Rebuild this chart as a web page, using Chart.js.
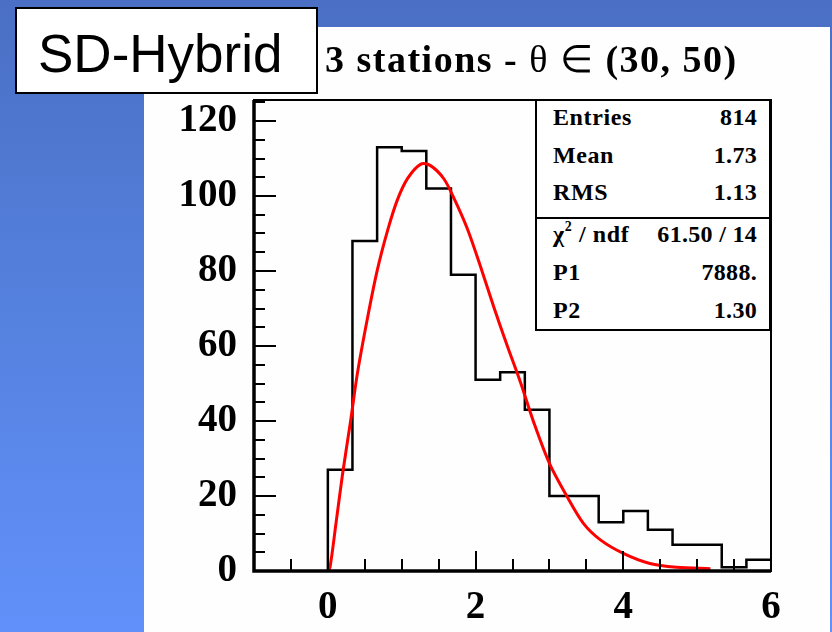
<!DOCTYPE html>
<html>
<head>
<meta charset="utf-8">
<script src="https://cdn.jsdelivr.net/npm/chart.js@4.4.0/dist/chart.umd.min.js"></script>
<style>
    html, body { margin: 0; padding: 0; }
    body {
        width: 832px; height: 632px; overflow: hidden; position: relative;
        background: linear-gradient(to bottom, #4a6fc4 0%, #5480dc 45%, #6190fa 100%);
    }
    #panel { position: absolute; left: 144px; top: 27px; width: 686px; height: 605px; background: #fefefe; }
    #wrap { position: absolute; left: 0; top: 0; width: 832px; height: 632px; }
    #tag {
        position: absolute; left: 15px; top: 7px; width: 303px; height: 87px;
        box-sizing: border-box; border: 2px solid #000; background: #fff;
    }
    #tagText {
        position: absolute; left: 38px; top: 27px; font: 53px/53px "Liberation Sans", Arial, sans-serif;
        color: #000; white-space: nowrap;
    }
    #title {
        position: absolute; left: 325px; top: 40px; font: bold 38px/38px "Liberation Serif", serif;
        letter-spacing: 1.5px; color: #000; white-space: nowrap;
    }
    #title .sym { font-weight: normal; }
    #stats {
        position: absolute; left: 535px; top: 99px; width: 236px; height: 232px;
        box-sizing: border-box; border: 2px solid #000; background: #fff;
    }
    #divider { position: absolute; left: 535px; top: 217px; width: 236px; height: 2px; background: #000; }
    .row {
        position: absolute; left: 553px; width: 204px; height: 24px; font: bold 24px/24px "Liberation Serif", serif;
        letter-spacing: 0.6px; color: #000; white-space: nowrap;
    }
    .row .v { position: absolute; right: 0; top: 0; letter-spacing: 0.3px; }
    .row sup { font-size: 14px; line-height: 0; vertical-align: baseline; position: relative; top: -11px; }
</style>
</head>
<body>
<div id="panel"></div>
<div id="wrap"><canvas id="histChart"></canvas></div>
<div id="tag"></div>
<div id="tagText">SD-Hybrid</div>
<div id="title">3 stations - <span class="sym">θ ∈</span> (30, 50)</div>
<div id="stats"></div>
<div id="divider"></div>
<div class="row" style="top:105px">Entries<span class="v">814</span></div>
<div class="row" style="top:143px">Mean<span class="v">1.73</span></div>
<div class="row" style="top:180px">RMS<span class="v">1.13</span></div>
<div class="row" style="top:222px">χ<sup>2</sup> / ndf<span class="v">61.50 / 14</span></div>
<div class="row" style="top:260px">P1<span class="v">7888.</span></div>
<div class="row" style="top:298px">P2<span class="v">1.30</span></div>
<script>
    // 直方图分箱边界（宽 1/3）和每箱计数
    var binEdges = [0, 0.333, 0.667, 1, 1.333, 1.667, 2, 2.333, 2.667, 3,
                    3.333, 3.667, 4, 4.333, 4.667, 5, 5.333, 5.667, 6];
    var counts = [27, 88, 113, 112, 102, 79, 51, 53, 43, 20,
                  20, 13, 16, 11, 7, 7, 1, 3];

    // 拟合曲线，从图上读出的点
    var fitX = [0, 0.03, 0.11, 0.2, 0.31, 0.4, 0.54, 0.67, 0.81, 0.94, 1.08, 1.26, 1.39,
                1.57, 1.71, 1.89, 2.07, 2.25, 2.43, 2.61, 2.79, 3.0, 3.24, 3.46, 3.69,
                4.0, 4.36, 4.72, 5.18];
    var fitY = [0, 1.1, 12.7, 26, 40.3, 52.7, 67.8, 80.3, 90.9, 98.9, 104.7, 108.5, 108.1,
                104.6, 99.3, 91.2, 81.0, 70.2, 60.0, 50.2, 39.5, 28.7, 19.8, 12.7, 8.3,
                4.7, 2.0, 1.0, 0.6];

    // 坐标轴刻度标签
    var xTicks = [0, 2, 4, 6];
    var yTicks = [0, 20, 40, 60, 80, 100, 120];

    var histPts = [{x: binEdges[0], y: 0}];
    counts.forEach(function (c, i) { histPts.push({x: binEdges[i], y: c}); });
    histPts.push({x: binEdges[binEdges.length - 1], y: counts[counts.length - 1]});

    var fitPts = fitX.map(function (x, i) { return {x: x, y: fitY[i]}; });

    // ROOT 风格：刻度画在框内 + 外框
    var rootFrame = {
        id: 'rootFrame',
        afterDatasetsDraw: function (chart) {
            var ctx = chart.ctx, a = chart.chartArea;
            var xs = chart.scales.x, ys = chart.scales.y;
            ctx.save();
            ctx.strokeStyle = '#000';
            ctx.lineWidth = 2;
            for (var v = 0; v <= 125; v += 5) {
                var py = Math.round(ys.getPixelForValue(v));
                var len = v % 20 === 0 ? 22 : 11;
                ctx.beginPath(); ctx.moveTo(a.left, py); ctx.lineTo(a.left + len, py); ctx.stroke();
            }
            for (var u = -0.5; u < 6; u += 0.5) {
                var px = Math.round(xs.getPixelForValue(u));
                var len2 = u % 2 === 0 ? 20 : 12;
                ctx.beginPath(); ctx.moveTo(px, a.bottom); ctx.lineTo(px, a.bottom - len2); ctx.stroke();
            }
            ctx.lineWidth = 2;
            ctx.strokeRect(a.left, a.top, a.right - a.left, a.bottom - a.top);
            ctx.lineWidth = 3.5;
            ctx.beginPath();
            ctx.moveTo(a.left, a.top); ctx.lineTo(a.left, a.bottom); ctx.lineTo(a.right, a.bottom);
            ctx.stroke();
            ctx.restore();
        }
    };

    var tickFont = {family: '"Liberation Serif", serif', weight: 'bold', size: 39};

    var chart = new Chart(document.getElementById('histChart'), {
        type: 'line',
        data: {
            datasets: [
                {
                    label: 'fit',
                    data: fitPts,
                    borderColor: '#ff0000',
                    borderWidth: 3,
                    pointRadius: 0,
                    tension: 0.3,
                    fill: false,
                    order: 0
                },
                {
                    label: 'hist',
                    data: histPts,
                    borderColor: '#000',
                    borderWidth: 2.5,
                    pointRadius: 0,
                    stepped: 'before',
                    fill: false,
                    order: 1
                }
            ]
        },
        options: {
            responsive: true,
            maintainAspectRatio: false,
            animation: false,
            layout: {padding: {left: 0, top: 100, right: 61, bottom: 0}},
            plugins: {legend: {display: false}, tooltip: {enabled: false}, title: {display: false}},
            scales: {
                x: {
                    type: 'linear', min: -1, max: 6,
                    grid: {display: false, drawTicks: false},
                    border: {display: false},
                    afterBuildTicks: function (s) { s.ticks = xTicks.map(function (v) { return {value: v}; }); },
                    afterFit: function (s) { s.height = 61; },
                    ticks: {font: tickFont, color: '#000', padding: 14, maxRotation: 0, autoSkip: false}
                },
                y: {
                    min: 0, max: 125.6,
                    grid: {display: false, drawTicks: false},
                    border: {display: false},
                    afterBuildTicks: function (s) { s.ticks = yTicks.map(function (v) { return {value: v}; }); },
                    afterFit: function (s) { s.width = 254; },
                    ticks: {font: tickFont, color: '#000', padding: 17}
                }
            }
        },
        plugins: [rootFrame]
    });
</script>
</body>
</html>
